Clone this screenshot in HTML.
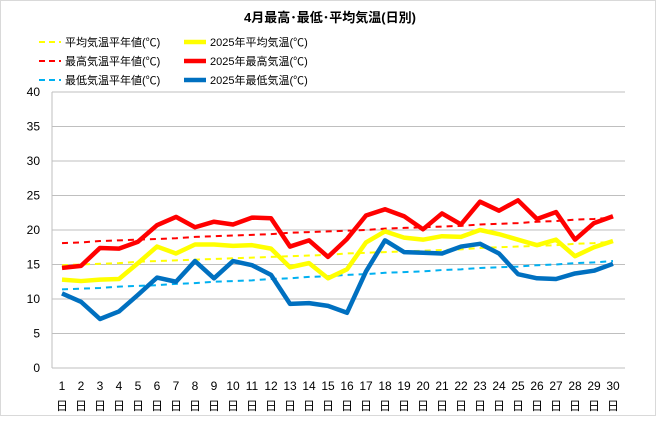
<!DOCTYPE html>
<html><head><meta charset="utf-8"><style>
body{margin:0;background:#fff;}
svg text{font-family:"Liberation Sans","Noto Sans CJK JP",sans-serif;}
</style></head><body>
<svg id="chart" width="660" height="416" viewBox="0 0 660 416" xmlns="http://www.w3.org/2000/svg">
<rect x="0.5" y="0.5" width="655" height="415" fill="#fff" stroke="#d9d9d9"/>
<text x="330" y="22" text-anchor="middle" font-size="13" font-weight="bold">4月最高･最低･平均気温(日別)</text>
<g id="legend" font-size="11"></g>
<g id="grid"></g><g id="marks"></g><g id="axes"></g>
</svg>
<script>
const days=[1,2,3,4,5,6,7,8,9,10,11,12,13,14,15,16,17,18,19,20,21,22,23,24,25,26,27,28,29,30];
const yTicks=[0,5,10,15,20,25,30,35,40];
const maxNormal=[18.1,18.2,18.4,18.5,18.6,18.7,18.8,19.0,19.1,19.2,19.3,19.4,19.6,19.7,19.8,19.9,20.0,20.2,20.3,20.4,20.5,20.6,20.8,20.9,21.0,21.2,21.3,21.5,21.6,21.8];
const avgNormal=[14.9,15.0,15.1,15.2,15.4,15.5,15.6,15.7,15.8,15.9,16.0,16.1,16.2,16.3,16.4,16.6,16.7,16.8,16.9,17.0,17.1,17.2,17.4,17.5,17.6,17.7,17.8,18.0,18.1,18.3];
const minNormal=[11.4,11.5,11.6,11.8,11.9,12.0,12.2,12.3,12.5,12.6,12.7,12.9,13.0,13.2,13.3,13.5,13.6,13.8,13.9,14.0,14.2,14.3,14.5,14.6,14.7,14.9,15.0,15.2,15.3,15.5];
const max2025=[14.5,14.8,17.4,17.3,18.3,20.7,21.9,20.4,21.2,20.8,21.8,21.7,17.6,18.5,16.1,18.7,22.1,23.0,22.0,20.1,22.4,20.8,24.1,22.8,24.3,21.6,22.6,18.6,21.0,22.0];
const avg2025=[12.8,12.6,12.8,12.9,15.2,17.6,16.6,17.9,17.9,17.7,17.8,17.3,14.6,15.2,13.0,14.3,18.2,19.8,18.9,18.6,19.1,19.0,20.0,19.4,18.6,17.8,18.6,16.2,17.5,18.4];
const min2025=[10.8,9.6,7.1,8.2,10.6,13.1,12.5,15.5,13.0,15.5,14.9,13.5,9.3,9.4,9.0,8.0,14.0,18.5,16.8,16.7,16.6,17.6,18.0,16.6,13.6,13.0,12.9,13.7,14.1,15.1];
const NS="http://www.w3.org/2000/svg";
const X0=52,X1=625,Y0=368,Y1=92;
const xs=d=>62+(d-1)*(613-62)/29;
const ys=v=>Y0-(v/40)*(Y0-Y1);
function mk(t,a,p){const e=document.createElementNS(NS,t);for(const k in a)e.setAttribute(k,a[k]);p.appendChild(e);return e;}
const grid=document.getElementById('grid'),axes=document.getElementById('axes'),marks=document.getElementById('marks'),leg=document.getElementById('legend');
yTicks.forEach(v=>{
 const l=mk('line',{x1:X0,x2:X1,y1:ys(v),y2:ys(v),stroke:'#bfbfbf','stroke-width':1},grid);
 
 
 const t=mk('text',{x:40,y:ys(v)+4,'text-anchor':'end','font-size':12},axes);t.textContent=v;
 
 
});
const ax=mk('line',{x1:X0,x2:X0,y1:Y1,y2:Y0,stroke:'#bfbfbf'},axes);


days.forEach(d=>{
 const t=mk('text',{x:xs(d),y:390,'text-anchor':'middle','font-size':12},axes);t.textContent=d;
 
 
 const u=mk('text',{x:xs(d),y:410,'text-anchor':'middle','font-size':12},axes);u.textContent='日';
 
 
});
const series=[
 {d:maxNormal,c:'#ff0000',w:2,dash:'6 5',n:'max-normal-line'},
 {d:avgNormal,c:'#ffff00',w:2,dash:'6 5',n:'avg-normal-line'},
 {d:minNormal,c:'#00b0f0',w:2,dash:'6 5',n:'min-normal-line'},
 {d:avg2025,c:'#ffff00',w:4.5,dash:'',n:'avg-2025-line'},
 {d:max2025,c:'#ff0000',w:4.5,dash:'',n:'max-2025-line'},
 {d:min2025,c:'#0070c0',w:4.5,dash:'',n:'min-2025-line'}];
series.forEach(s=>{
 const p=mk('polyline',{points:s.d.map((v,i)=>xs(days[i])+','+ys(v)).join(' '),fill:'none',stroke:s.c,'stroke-width':s.w,'stroke-dasharray':s.dash,'stroke-linejoin':'round'},marks);
 
 
});
const legItems=[
 {x:65,y:42,c:'#ffff00',w:2,dash:'6 4',t:'平均気温平年値(℃)',n:'legend-avg-normal'},
 {x:210,y:42,c:'#ffff00',w:4.5,dash:'',t:'2025年平均気温(℃)',n:'legend-avg-2025'},
 {x:65,y:61,c:'#ff0000',w:2,dash:'6 4',t:'最高気温平年値(℃)',n:'legend-max-normal'},
 {x:210,y:61,c:'#ff0000',w:4.5,dash:'',t:'2025年最高気温(℃)',n:'legend-max-2025'},
 {x:65,y:80,c:'#00b0f0',w:2,dash:'6 4',t:'最低気温平年値(℃)',n:'legend-min-normal'},
 {x:210,y:80,c:'#0070c0',w:4.5,dash:'',t:'2025年最低気温(℃)',n:'legend-min-2025'}];
legItems.forEach(l=>{
 const g=mk('g',{},leg);
 
 
 mk('line',{x1:l.x-26,x2:l.x-4,y1:l.y,y2:l.y,stroke:l.c,'stroke-width':l.w,'stroke-dasharray':l.dash},g);
 const t=mk('text',{x:l.x,y:l.y+4,'font-size':11},g);t.textContent=l.t;
});
</script>
</body></html>
